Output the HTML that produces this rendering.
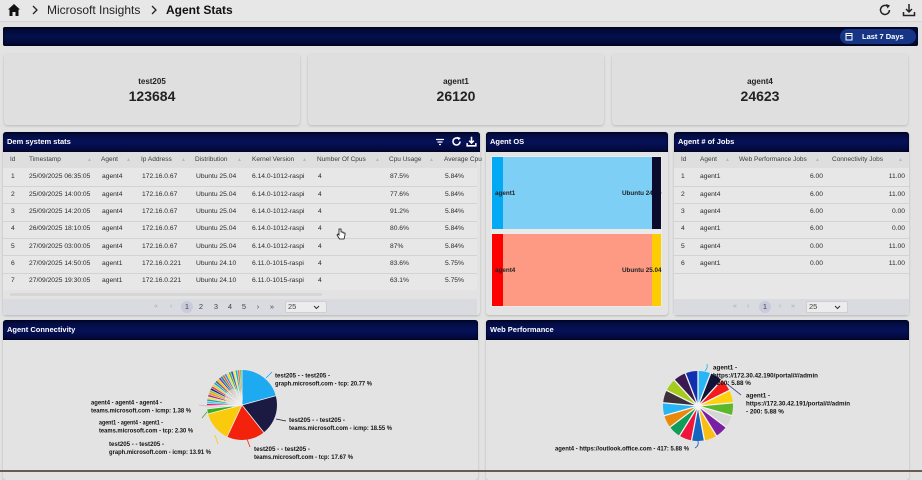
<!DOCTYPE html>
<html><head><meta charset="utf-8">
<style>
*{box-sizing:border-box}
body{margin:0;width:922px;height:472px;overflow:hidden;background:#e2e2e2;position:relative;font-family:"Liberation Sans",sans-serif;color:#222}
.a{position:absolute}
.t{position:absolute;font-size:6.7px;line-height:8px;white-space:nowrap;color:#2a2a2a}
.h{position:absolute;font-size:6.5px;line-height:8px;white-space:nowrap;color:#3a3a3a}
.ar{position:absolute;font-size:5px;line-height:8px;color:#b8b8b8}
.navy{background:linear-gradient(180deg,#020834 0%,#06125a 50%,#020834 100%);border-radius:3px 3px 0 0;box-shadow:inset 0 0 2px #000}
.ptitle{position:absolute;color:#fff;font-weight:bold;font-size:7.5px;line-height:8px;white-space:nowrap}
.card{position:absolute;background:#dfdfdf;border-radius:3px;box-shadow:0 1px 2px rgba(0,0,0,.18)}
.panel{position:absolute;background:#e3e3e3;border-radius:3px;box-shadow:0 1px 2px rgba(0,0,0,.2)}
.row{position:absolute;height:1px;background:#d3d3d3}
.pg{position:absolute;font-size:7.5px;line-height:10px;color:#444;text-align:center}
.pgd{position:absolute;font-size:7px;line-height:10px;color:#aaa}
</style></head>
<body>
<!-- top bar -->
<div class="a" style="left:0;top:0;width:922px;height:22px;background:#e7e7e7;border-bottom:1px solid #d6d6d6"></div>
<svg class="a" style="left:7px;top:3px" width="14" height="14" viewBox="0 0 14 14"><path d="M7 1 L13 6.5 L11.5 6.5 L11.5 13 L8.5 13 L8.5 9 L5.5 9 L5.5 13 L2.5 13 L2.5 6.5 L1 6.5 Z" fill="#111"/></svg>
<svg class="a" style="left:31px;top:5px" width="8" height="10"><path d="M2 1 L6 5 L2 9" stroke="#222" stroke-width="1.3" fill="none"/></svg>
<div class="a" style="left:47px;top:3px;font-size:12px;line-height:14px;color:#222">Microsoft Insights</div>
<svg class="a" style="left:150px;top:5px" width="8" height="10"><path d="M2 1 L6 5 L2 9" stroke="#222" stroke-width="1.3" fill="none"/></svg>
<div class="a" style="left:166px;top:3px;font-size:12px;line-height:14px;font-weight:bold;color:#111">Agent Stats</div>
<svg class="a" style="left:878px;top:3px" width="14" height="14" viewBox="0 0 14 14"><path d="M11.5 7 A4.5 4.5 0 1 1 9.5 3.2" stroke="#222" stroke-width="1.5" fill="none"/><path d="M8 1 L12 2.5 L9.5 5.5 Z" fill="#222"/></svg>
<svg class="a" style="left:902px;top:3px" width="14" height="14" viewBox="0 0 14 14"><path d="M7 1 V9 M4 6 L7 9 L10 6" stroke="#222" stroke-width="1.5" fill="none"/><path d="M1.5 9 V12.5 H12.5 V9" stroke="#222" stroke-width="1.5" fill="none"/></svg>

<!-- navy filter bar -->
<div class="a" style="left:3px;top:27px;width:915px;height:19px;background:linear-gradient(180deg,#01062a 0%,#03104e 50%,#01062a 100%);border-radius:2px;box-shadow:inset 0 0 2px #000"></div>
<div class="a" style="left:840px;top:29px;width:76px;height:15px;background:#163585;border-radius:8px"></div>
<svg class="a" style="left:845px;top:32px" width="8" height="9" viewBox="0 0 8 9"><rect x="1" y="1.5" width="6" height="6.5" stroke="#fff" stroke-width="1" fill="none"/><line x1="1" y1="3.5" x2="7" y2="3.5" stroke="#fff" stroke-width="1"/></svg>
<div class="a" style="left:862px;top:32px;font-size:7.5px;line-height:9px;font-weight:bold;color:#fff">Last 7 Days</div>

<!-- KPI cards -->
<div class="card" style="left:4px;top:54px;width:296px;height:71px"></div>
<div class="card" style="left:308px;top:54px;width:296px;height:71px"></div>
<div class="card" style="left:612px;top:54px;width:296px;height:71px"></div>
<div class="a" style="left:4px;top:77px;width:296px;text-align:center;font-size:8px;font-weight:bold;line-height:9px">test205</div>
<div class="a" style="left:4px;top:88px;width:296px;text-align:center;font-size:14px;font-weight:bold;line-height:16px">123684</div>
<div class="a" style="left:308px;top:77px;width:296px;text-align:center;font-size:8px;font-weight:bold;line-height:9px">agent1</div>
<div class="a" style="left:308px;top:88px;width:296px;text-align:center;font-size:14px;font-weight:bold;line-height:16px">26120</div>
<div class="a" style="left:612px;top:77px;width:296px;text-align:center;font-size:8px;font-weight:bold;line-height:9px">agent4</div>
<div class="a" style="left:612px;top:88px;width:296px;text-align:center;font-size:14px;font-weight:bold;line-height:16px">24623</div>

<!-- Dem system stats panel -->
<div class="panel" style="left:3px;top:132px;width:477px;height:183px"></div>
<div class="a navy" style="left:3px;top:132px;width:477px;height:20px"></div>
<div class="ptitle" style="left:7px;top:138px">Dem system stats</div>
<svg class="a" style="left:435px;top:137px" width="10" height="10"><path d="M1 2.5 H9 M2.5 5 H7.5 M4 7.5 H6" stroke="#fff" stroke-width="1.3"/></svg>
<svg class="a" style="left:451px;top:136px" width="11" height="11" viewBox="0 0 14 14"><path d="M11.5 7 A4.5 4.5 0 1 1 9.5 3.2" stroke="#fff" stroke-width="2" fill="none"/><path d="M8 1 L12.5 2.5 L9.5 5.5 Z" fill="#fff"/></svg>
<svg class="a" style="left:466px;top:136px" width="11" height="11" viewBox="0 0 14 14"><path d="M7 1 V9 M4 6 L7 9 L10 6" stroke="#fff" stroke-width="2" fill="none"/><path d="M1.5 9 V12.5 H12.5 V9" stroke="#fff" stroke-width="2" fill="none"/></svg>
<div class="a" style="left:3px;top:152px;width:474px;height:16px;background:#dedede"></div>
<div class="a" style="left:3px;top:168px;width:474px;height:122px;background:#e7e7e7"></div>
<div class="h" style="left:10px;top:156px">Id</div>
<div class="h" style="left:29px;top:156px">Timestamp</div><div class="ar" style="left:87px;top:156px">▲</div>
<div class="h" style="left:101px;top:156px">Agent</div><div class="ar" style="left:126px;top:156px">▲</div>
<div class="h" style="left:141px;top:156px">Ip Address</div><div class="ar" style="left:181px;top:156px">▲</div>
<div class="h" style="left:195px;top:156px">Distribution</div><div class="ar" style="left:237px;top:156px">▲</div>
<div class="h" style="left:252px;top:156px">Kernel Version</div><div class="ar" style="left:302px;top:156px">▲</div>
<div class="h" style="left:317px;top:156px">Number Of Cpus</div><div class="ar" style="left:375px;top:156px">▲</div>
<div class="h" style="left:389px;top:156px">Cpu Usage</div><div class="ar" style="left:429px;top:156px">▲</div>
<div class="h" style="left:444px;top:156px">Average Cpu</div>

<div class="row" style="left:3px;top:186px;width:474px"></div>
<div class="row" style="left:3px;top:203px;width:474px"></div>
<div class="row" style="left:3px;top:221px;width:474px"></div>
<div class="row" style="left:3px;top:238px;width:474px"></div>
<div class="row" style="left:3px;top:255px;width:474px"></div>
<div class="row" style="left:3px;top:273px;width:474px"></div>

<div class="t" style="left:11px;top:173px">1</div><div class="t" style="left:29px;top:173px">25/09/2025 06:35:05</div><div class="t" style="left:102px;top:173px">agent4</div><div class="t" style="left:142px;top:173px">172.16.0.67</div><div class="t" style="left:196px;top:173px">Ubuntu 25.04</div><div class="t" style="left:252px;top:173px">6.14.0-1012-raspi</div><div class="t" style="left:318px;top:173px">4</div><div class="t" style="left:390px;top:173px">87.5%</div><div class="t" style="left:445px;top:173px">5.84%</div>
<div class="t" style="left:11px;top:191px">2</div><div class="t" style="left:29px;top:191px">25/09/2025 14:00:05</div><div class="t" style="left:102px;top:191px">agent4</div><div class="t" style="left:142px;top:191px">172.16.0.67</div><div class="t" style="left:196px;top:191px">Ubuntu 25.04</div><div class="t" style="left:252px;top:191px">6.14.0-1012-raspi</div><div class="t" style="left:318px;top:191px">4</div><div class="t" style="left:390px;top:191px">77.6%</div><div class="t" style="left:445px;top:191px">5.84%</div>
<div class="t" style="left:11px;top:208px">3</div><div class="t" style="left:29px;top:208px">25/09/2025 14:20:05</div><div class="t" style="left:102px;top:208px">agent4</div><div class="t" style="left:142px;top:208px">172.16.0.67</div><div class="t" style="left:196px;top:208px">Ubuntu 25.04</div><div class="t" style="left:252px;top:208px">6.14.0-1012-raspi</div><div class="t" style="left:318px;top:208px">4</div><div class="t" style="left:390px;top:208px">91.2%</div><div class="t" style="left:445px;top:208px">5.84%</div>
<div class="t" style="left:11px;top:225px">4</div><div class="t" style="left:29px;top:225px">26/09/2025 18:10:05</div><div class="t" style="left:102px;top:225px">agent4</div><div class="t" style="left:142px;top:225px">172.16.0.67</div><div class="t" style="left:196px;top:225px">Ubuntu 25.04</div><div class="t" style="left:252px;top:225px">6.14.0-1012-raspi</div><div class="t" style="left:318px;top:225px">4</div><div class="t" style="left:390px;top:225px">80.6%</div><div class="t" style="left:445px;top:225px">5.84%</div>
<div class="t" style="left:11px;top:243px">5</div><div class="t" style="left:29px;top:243px">27/09/2025 03:00:05</div><div class="t" style="left:102px;top:243px">agent4</div><div class="t" style="left:142px;top:243px">172.16.0.67</div><div class="t" style="left:196px;top:243px">Ubuntu 25.04</div><div class="t" style="left:252px;top:243px">6.14.0-1012-raspi</div><div class="t" style="left:318px;top:243px">4</div><div class="t" style="left:390px;top:243px">87%</div><div class="t" style="left:445px;top:243px">5.84%</div>
<div class="t" style="left:11px;top:260px">6</div><div class="t" style="left:29px;top:260px">27/09/2025 14:50:05</div><div class="t" style="left:102px;top:260px">agent1</div><div class="t" style="left:142px;top:260px">172.16.0.221</div><div class="t" style="left:196px;top:260px">Ubuntu 24.10</div><div class="t" style="left:252px;top:260px">6.11.0-1015-raspi</div><div class="t" style="left:318px;top:260px">4</div><div class="t" style="left:390px;top:260px">83.6%</div><div class="t" style="left:445px;top:260px">5.75%</div>
<div class="t" style="left:11px;top:277px">7</div><div class="t" style="left:29px;top:277px">27/09/2025 19:30:05</div><div class="t" style="left:102px;top:277px">agent1</div><div class="t" style="left:142px;top:277px">172.16.0.221</div><div class="t" style="left:196px;top:277px">Ubuntu 24.10</div><div class="t" style="left:252px;top:277px">6.11.0-1015-raspi</div><div class="t" style="left:318px;top:277px">4</div><div class="t" style="left:390px;top:277px">63.1%</div><div class="t" style="left:445px;top:277px">5.75%</div>
<div class="a" style="left:10px;top:293px;width:312px;height:3px;background:#d6d6d6;border-radius:2px"></div>
<!-- cursor -->
<svg class="a" style="left:336px;top:228px" width="10" height="12" viewBox="0 0 10 12"><path d="M3 1 V7 L2 6 L1 7 L3.5 11 H8 L9 7 V5 H7 V4 H5 V1 Z" fill="#fff" stroke="#111" stroke-width=".8"/></svg>
<div class="a" style="left:3px;top:299px;width:474px;height:16px;background:#dadbe0"></div>
<div class="pgd" style="left:154px;top:302px">«</div>
<div class="pgd" style="left:170px;top:302px">‹</div>
<div class="a" style="left:181px;top:301px;width:12px;height:12px;border-radius:6px;background:#c9cbdc"></div>
<div class="pg" style="left:181px;top:302px;width:12px">1</div>
<div class="pg" style="left:197px;top:302px;width:8px">2</div>
<div class="pg" style="left:212px;top:302px;width:8px">3</div>
<div class="pg" style="left:226px;top:302px;width:8px">4</div>
<div class="pg" style="left:240px;top:302px;width:8px">5</div>
<div class="pg" style="left:254px;top:302px;width:8px">›</div>
<div class="pg" style="left:268px;top:302px;width:8px">»</div>
<div class="a" style="left:285px;top:301px;width:42px;height:12px;background:#ececec;border:1px solid #cfcfcf;border-radius:2px"></div>
<div class="pg" style="left:288px;top:302px">25</div>
<svg class="a" style="left:313px;top:305px" width="7" height="5"><path d="M1 1 L3.5 3.5 L6 1" stroke="#333" stroke-width="1" fill="none"/></svg>

<!-- Agent OS panel -->
<div class="panel" style="left:486px;top:132px;width:182px;height:183px"></div>
<div class="a navy" style="left:486px;top:132px;width:182px;height:20px"></div>
<div class="ptitle" style="left:490px;top:138px">Agent OS</div>
<div class="a" style="left:491px;top:156px;width:171px;height:151px;background:#eaeaea"></div>
<div class="a" style="left:503px;top:157px;width:149px;height:72px;background:#7dcff5"></div>
<div class="a" style="left:492px;top:157px;width:11px;height:72px;background:#04a9f4"></div>
<div class="a" style="left:503px;top:234px;width:149px;height:72px;background:#fe9a84"></div>
<div class="a" style="left:492px;top:234px;width:11px;height:72px;background:#fe0000"></div>
<div class="a" style="left:495px;top:190px;font-size:6.3px;font-weight:bold;line-height:8px">agent1</div>
<div class="a" style="left:495px;top:267px;font-size:6.3px;font-weight:bold;line-height:8px">agent4</div>
<div class="a" style="left:622px;top:190px;font-size:6.3px;font-weight:bold;line-height:8px;white-space:nowrap">Ubuntu 24.10</div>
<div class="a" style="left:652px;top:157px;width:9px;height:72px;background:#0b0b2e"></div>
<div class="a" style="left:652px;top:234px;width:9px;height:72px;background:#fecc02"></div>
<div class="a" style="left:622px;top:267px;font-size:6.3px;font-weight:bold;line-height:8px;white-space:nowrap">Ubuntu 25.04</div>

<!-- Agent # of Jobs -->
<div class="panel" style="left:674px;top:132px;width:235px;height:183px"></div>
<div class="a navy" style="left:674px;top:132px;width:235px;height:20px"></div>
<div class="ptitle" style="left:678px;top:138px">Agent # of Jobs</div>
<div class="a" style="left:674px;top:152px;width:235px;height:16px;background:#dedede"></div>
<div class="a" style="left:674px;top:168px;width:235px;height:131px;background:#e7e7e7"></div>
<div class="h" style="left:681px;top:156px">Id</div>
<div class="h" style="left:700px;top:156px">Agent</div><div class="ar" style="left:725px;top:156px">▲</div>
<div class="h" style="left:739px;top:156px">Web Performance Jobs</div><div class="ar" style="left:815px;top:156px">▲</div>
<div class="h" style="left:832px;top:156px">Connectivity Jobs</div><div class="ar" style="left:898px;top:156px">▲</div>
<div class="row" style="left:674px;top:186px;width:235px"></div>
<div class="row" style="left:674px;top:203px;width:235px"></div>
<div class="row" style="left:674px;top:221px;width:235px"></div>
<div class="row" style="left:674px;top:238px;width:235px"></div>
<div class="row" style="left:674px;top:255px;width:235px"></div>
<div class="row" style="left:674px;top:273px;width:235px"></div>
<div class="t" style="left:681px;top:173px">1</div><div class="t" style="left:700px;top:173px">agent1</div><div class="t" style="left:783px;top:173px;width:40px;text-align:right">6.00</div><div class="t" style="left:865px;top:173px;width:40px;text-align:right">11.00</div>
<div class="t" style="left:681px;top:191px">2</div><div class="t" style="left:700px;top:191px">agent4</div><div class="t" style="left:783px;top:191px;width:40px;text-align:right">6.00</div><div class="t" style="left:865px;top:191px;width:40px;text-align:right">11.00</div>
<div class="t" style="left:681px;top:208px">3</div><div class="t" style="left:700px;top:208px">agent4</div><div class="t" style="left:783px;top:208px;width:40px;text-align:right">6.00</div><div class="t" style="left:865px;top:208px;width:40px;text-align:right">0.00</div>
<div class="t" style="left:681px;top:225px">4</div><div class="t" style="left:700px;top:225px">agent1</div><div class="t" style="left:783px;top:225px;width:40px;text-align:right">6.00</div><div class="t" style="left:865px;top:225px;width:40px;text-align:right">0.00</div>
<div class="t" style="left:681px;top:243px">5</div><div class="t" style="left:700px;top:243px">agent4</div><div class="t" style="left:783px;top:243px;width:40px;text-align:right">0.00</div><div class="t" style="left:865px;top:243px;width:40px;text-align:right">11.00</div>
<div class="t" style="left:681px;top:260px">6</div><div class="t" style="left:700px;top:260px">agent1</div><div class="t" style="left:783px;top:260px;width:40px;text-align:right">0.00</div><div class="t" style="left:865px;top:260px;width:40px;text-align:right">11.00</div>
<div class="a" style="left:674px;top:299px;width:235px;height:16px;background:#dadbe0"></div>
<div class="pgd" style="left:733px;top:302px">«</div>
<div class="pgd" style="left:747px;top:302px">‹</div>
<div class="a" style="left:759px;top:301px;width:12px;height:12px;border-radius:6px;background:#c9cbdc"></div>
<div class="pg" style="left:759px;top:302px;width:12px">1</div>
<div class="pgd" style="left:779px;top:302px">›</div>
<div class="pgd" style="left:791px;top:302px">»</div>
<div class="a" style="left:806px;top:301px;width:42px;height:12px;background:#ececec;border:1px solid #cfcfcf;border-radius:2px"></div>
<div class="pg" style="left:809px;top:302px">25</div>
<svg class="a" style="left:834px;top:305px" width="7" height="5"><path d="M1 1 L3.5 3.5 L6 1" stroke="#333" stroke-width="1" fill="none"/></svg>

<!-- Bottom panels -->
<div class="panel" style="left:3px;top:320px;width:475px;height:160px"></div>
<div class="a navy" style="left:3px;top:320px;width:475px;height:20px"></div>
<div class="ptitle" style="left:7px;top:326px">Agent Connectivity</div>
<div class="panel" style="left:486px;top:320px;width:423px;height:160px"></div>
<div class="a navy" style="left:486px;top:320px;width:423px;height:20px"></div>
<div class="ptitle" style="left:490px;top:326px">Web Performance</div>
<div class="a" style="left:0;top:470px;width:922px;height:2px;background:#6a5a50"></div>

<svg class="a" style="left:0;top:0" width="922" height="472" viewBox="0 0 922 472">
<g transform="rotate(-90 242 405)" fill="none" stroke-width="35">
<circle cx="242" cy="405" r="17.5" stroke="#1eaaf1" stroke-dasharray="22.84 200" stroke-dashoffset="0"/>
<circle cx="242" cy="405" r="17.5" stroke="#1a1a42" stroke-dasharray="20.40 200" stroke-dashoffset="-22.838"/>
<circle cx="242" cy="405" r="17.5" stroke="#f3220c" stroke-dasharray="19.43 200" stroke-dashoffset="-43.235"/>
<circle cx="242" cy="405" r="17.5" stroke="#fcca0c" stroke-dasharray="15.30 200" stroke-dashoffset="-62.664"/>
<circle cx="242" cy="405" r="17.5" stroke="#3fae1c" stroke-dasharray="2.53 200" stroke-dashoffset="-77.959"/>
<circle cx="242" cy="405" r="17.5" stroke="#d9d9d9" stroke-dasharray="1.52 200" stroke-dashoffset="-80.488"/>
<circle cx="242" cy="405" r="17.5" stroke="#e91e63" stroke-dasharray="1.2 200" stroke-dashoffset="-82.005"/>
<circle cx="242" cy="405" r="17.5" stroke="#4fc3f7" stroke-dasharray="1.2 200" stroke-dashoffset="-83.170"/>
<circle cx="242" cy="405" r="17.5" stroke="#26a69a" stroke-dasharray="1.2 200" stroke-dashoffset="-84.334"/>
<circle cx="242" cy="405" r="17.5" stroke="#f9e23b" stroke-dasharray="1.2 200" stroke-dashoffset="-85.499"/>
<circle cx="242" cy="405" r="17.5" stroke="#9c27b0" stroke-dasharray="1.2 200" stroke-dashoffset="-86.663"/>
<circle cx="242" cy="405" r="17.5" stroke="#ff9800" stroke-dasharray="1.2 200" stroke-dashoffset="-87.828"/>
<circle cx="242" cy="405" r="17.5" stroke="#8bc34a" stroke-dasharray="1.2 200" stroke-dashoffset="-88.993"/>
<circle cx="242" cy="405" r="17.5" stroke="#1a237e" stroke-dasharray="1.2 200" stroke-dashoffset="-90.157"/>
<circle cx="242" cy="405" r="17.5" stroke="#f44336" stroke-dasharray="1.2 200" stroke-dashoffset="-91.322"/>
<circle cx="242" cy="405" r="17.5" stroke="#cddc39" stroke-dasharray="1.2 200" stroke-dashoffset="-92.486"/>
<circle cx="242" cy="405" r="17.5" stroke="#03a9f4" stroke-dasharray="1.2 200" stroke-dashoffset="-93.651"/>
<circle cx="242" cy="405" r="17.5" stroke="#795548" stroke-dasharray="1.2 200" stroke-dashoffset="-94.816"/>
<circle cx="242" cy="405" r="17.5" stroke="#ffc107" stroke-dasharray="1.2 200" stroke-dashoffset="-95.980"/>
<circle cx="242" cy="405" r="17.5" stroke="#673ab7" stroke-dasharray="1.2 200" stroke-dashoffset="-97.145"/>
<circle cx="242" cy="405" r="17.5" stroke="#009688" stroke-dasharray="1.2 200" stroke-dashoffset="-98.309"/>
<circle cx="242" cy="405" r="17.5" stroke="#ff5722" stroke-dasharray="1.2 200" stroke-dashoffset="-99.474"/>
<circle cx="242" cy="405" r="17.5" stroke="#2196f3" stroke-dasharray="1.2 200" stroke-dashoffset="-100.639"/>
<circle cx="242" cy="405" r="17.5" stroke="#fdd835" stroke-dasharray="1.2 200" stroke-dashoffset="-101.803"/>
<circle cx="242" cy="405" r="17.5" stroke="#4caf50" stroke-dasharray="1.2 200" stroke-dashoffset="-102.968"/>
<circle cx="242" cy="405" r="17.5" stroke="#3f51b5" stroke-dasharray="1.2 200" stroke-dashoffset="-104.132"/>
<circle cx="242" cy="405" r="17.5" stroke="#ffeb3b" stroke-dasharray="1.2 200" stroke-dashoffset="-105.297"/>
<circle cx="242" cy="405" r="17.5" stroke="#00bcd4" stroke-dasharray="1.2 200" stroke-dashoffset="-106.462"/>
<circle cx="242" cy="405" r="17.5" stroke="#ff7043" stroke-dasharray="1.2 200" stroke-dashoffset="-107.626"/>
<circle cx="242" cy="405" r="17.5" stroke="#66bb6a" stroke-dasharray="1.17 200" stroke-dashoffset="-108.791"/>
</g>
<g stroke="#f4f4f4" stroke-width="0.8">
<line x1="242" y1="405" x2="242" y2="369.5"/>
<line x1="242" y1="405" x2="242" y2="369.5" transform="rotate(74.77 242 405)"/>
<line x1="242" y1="405" x2="242" y2="369.5" transform="rotate(141.55 242 405)"/>
<line x1="242" y1="405" x2="242" y2="369.5" transform="rotate(205.16 242 405)"/>
<line x1="242" y1="405" x2="242" y2="369.5" transform="rotate(255.24 242 405)"/>
<line x1="242" y1="405" x2="242" y2="369.5" transform="rotate(263.52 242 405)"/>
<line x1="242" y1="405" x2="242" y2="369.5" transform="rotate(268.49 242 405)"/>
</g>
<g stroke="#f0f0f0" stroke-width="0.5">
<line x1="242" y1="405" x2="242" y2="369.5" transform="rotate(272.3 242 405)"/>
<line x1="242" y1="405" x2="242" y2="369.5" transform="rotate(276.1 242 405)"/>
<line x1="242" y1="405" x2="242" y2="369.5" transform="rotate(279.9 242 405)"/>
<line x1="242" y1="405" x2="242" y2="369.5" transform="rotate(283.7 242 405)"/>
<line x1="242" y1="405" x2="242" y2="369.5" transform="rotate(287.5 242 405)"/>
<line x1="242" y1="405" x2="242" y2="369.5" transform="rotate(291.4 242 405)"/>
<line x1="242" y1="405" x2="242" y2="369.5" transform="rotate(295.2 242 405)"/>
<line x1="242" y1="405" x2="242" y2="369.5" transform="rotate(299.0 242 405)"/>
<line x1="242" y1="405" x2="242" y2="369.5" transform="rotate(302.8 242 405)"/>
<line x1="242" y1="405" x2="242" y2="369.5" transform="rotate(306.6 242 405)"/>
<line x1="242" y1="405" x2="242" y2="369.5" transform="rotate(310.4 242 405)"/>
<line x1="242" y1="405" x2="242" y2="369.5" transform="rotate(314.2 242 405)"/>
<line x1="242" y1="405" x2="242" y2="369.5" transform="rotate(318.1 242 405)"/>
<line x1="242" y1="405" x2="242" y2="369.5" transform="rotate(321.9 242 405)"/>
<line x1="242" y1="405" x2="242" y2="369.5" transform="rotate(325.7 242 405)"/>
<line x1="242" y1="405" x2="242" y2="369.5" transform="rotate(329.5 242 405)"/>
<line x1="242" y1="405" x2="242" y2="369.5" transform="rotate(333.3 242 405)"/>
<line x1="242" y1="405" x2="242" y2="369.5" transform="rotate(337.1 242 405)"/>
<line x1="242" y1="405" x2="242" y2="369.5" transform="rotate(340.9 242 405)"/>
<line x1="242" y1="405" x2="242" y2="369.5" transform="rotate(344.8 242 405)"/>
<line x1="242" y1="405" x2="242" y2="369.5" transform="rotate(348.6 242 405)"/>
<line x1="242" y1="405" x2="242" y2="369.5" transform="rotate(352.4 242 405)"/>
<line x1="242" y1="405" x2="242" y2="369.5" transform="rotate(356.2 242 405)"/>
</g>
<circle cx="234" cy="398" r="9" fill="#eeeeee" opacity="0.55"/>
<!-- connectivity leaders -->
<g fill="none" stroke-width="0.8">
<path d="M266 378 L272 372" stroke="#1eaaf1"/>
<path d="M276 419 L286 421" stroke="#1a1a42"/>
<path d="M247 439 L250 447" stroke="#f3220c"/>
<path d="M215 435 L218 444" stroke="#fcca0c"/>
<path d="M207 412 L202 418" stroke="#3fae1c"/>
<path d="M207 406 L199 405" stroke="#bbbbbb"/>
</g>
<g font-family="Liberation Sans, sans-serif" font-size="6.3" font-weight="bold" fill="#111">
<text x="275" y="377.5" textLength="55" lengthAdjust="spacingAndGlyphs">test205 - - test205 -</text>
<text x="275" y="385.5" textLength="97" lengthAdjust="spacingAndGlyphs">graph.microsoft.com - tcp: 20.77 %</text>
<text x="289" y="422" textLength="56" lengthAdjust="spacingAndGlyphs">test205 - - test205 -</text>
<text x="289" y="430" textLength="103" lengthAdjust="spacingAndGlyphs">teams.microsoft.com - icmp: 18.55 %</text>
<text x="254" y="451" textLength="56" lengthAdjust="spacingAndGlyphs">test205 - - test205 -</text>
<text x="254" y="459" textLength="99" lengthAdjust="spacingAndGlyphs">teams.microsoft.com - tcp: 17.67 %</text>
<text x="109" y="446" textLength="55" lengthAdjust="spacingAndGlyphs">test205 - - test205 -</text>
<text x="109" y="454" textLength="102" lengthAdjust="spacingAndGlyphs">graph.microsoft.com - icmp: 13.91 %</text>
<text x="99" y="424.5" textLength="64" lengthAdjust="spacingAndGlyphs">agent1 - agent4 - agent1 -</text>
<text x="99" y="432.5" textLength="94" lengthAdjust="spacingAndGlyphs">teams.microsoft.com - tcp: 2.30 %</text>
<text x="91" y="404.5" textLength="71" lengthAdjust="spacingAndGlyphs">agent4 - agent4 - agent4 -</text>
<text x="91" y="412.5" textLength="100" lengthAdjust="spacingAndGlyphs">teams.microsoft.com - icmp: 1.38 %</text>
</g>

<!-- web perf pie -->
<g transform="rotate(-90 698 406)" fill="none" stroke-width="35">
<circle cx="698" cy="406" r="17.5" stroke="#29b6f6" stroke-dasharray="6.6 200" stroke-dashoffset="0"/>
<circle cx="698" cy="406" r="17.5" stroke="#13133a" stroke-dasharray="6.6 200" stroke-dashoffset="-6.468"/>
<circle cx="698" cy="406" r="17.5" stroke="#f51b1b" stroke-dasharray="6.6 200" stroke-dashoffset="-12.936"/>
<circle cx="698" cy="406" r="17.5" stroke="#fdd10c" stroke-dasharray="6.6 200" stroke-dashoffset="-19.404"/>
<circle cx="698" cy="406" r="17.5" stroke="#5cb82a" stroke-dasharray="6.6 200" stroke-dashoffset="-25.872"/>
<circle cx="698" cy="406" r="17.5" stroke="#d6d6d6" stroke-dasharray="6.6 200" stroke-dashoffset="-32.340"/>
<circle cx="698" cy="406" r="17.5" stroke="#7b1fa2" stroke-dasharray="6.6 200" stroke-dashoffset="-38.808"/>
<circle cx="698" cy="406" r="17.5" stroke="#fbbd12" stroke-dasharray="6.6 200" stroke-dashoffset="-45.276"/>
<circle cx="698" cy="406" r="17.5" stroke="#1565c0" stroke-dasharray="6.6 200" stroke-dashoffset="-51.744"/>
<circle cx="698" cy="406" r="17.5" stroke="#f0143c" stroke-dasharray="6.6 200" stroke-dashoffset="-58.212"/>
<circle cx="698" cy="406" r="17.5" stroke="#0f9d58" stroke-dasharray="6.6 200" stroke-dashoffset="-64.680"/>
<circle cx="698" cy="406" r="17.5" stroke="#e8890c" stroke-dasharray="6.6 200" stroke-dashoffset="-71.148"/>
<circle cx="698" cy="406" r="17.5" stroke="#26b5f5" stroke-dasharray="6.6 200" stroke-dashoffset="-77.616"/>
<circle cx="698" cy="406" r="17.5" stroke="#3e2f3a" stroke-dasharray="6.6 200" stroke-dashoffset="-84.084"/>
<circle cx="698" cy="406" r="17.5" stroke="#a5cc1a" stroke-dasharray="6.6 200" stroke-dashoffset="-90.552"/>
<circle cx="698" cy="406" r="17.5" stroke="#3a1850" stroke-dasharray="6.6 200" stroke-dashoffset="-97.020"/>
<circle cx="698" cy="406" r="17.5" stroke="#1030b0" stroke-dasharray="6.47 200" stroke-dashoffset="-103.488"/>
</g>
<g stroke="#f4f4f4" stroke-width="1.3">
<line x1="698" y1="406" x2="698" y2="370.5"/>
<line x1="698" y1="406" x2="698" y2="370.5" transform="rotate(21.18 698 406)"/>
<line x1="698" y1="406" x2="698" y2="370.5" transform="rotate(42.35 698 406)"/>
<line x1="698" y1="406" x2="698" y2="370.5" transform="rotate(63.53 698 406)"/>
<line x1="698" y1="406" x2="698" y2="370.5" transform="rotate(84.71 698 406)"/>
<line x1="698" y1="406" x2="698" y2="370.5" transform="rotate(105.88 698 406)"/>
<line x1="698" y1="406" x2="698" y2="370.5" transform="rotate(127.06 698 406)"/>
<line x1="698" y1="406" x2="698" y2="370.5" transform="rotate(148.24 698 406)"/>
<line x1="698" y1="406" x2="698" y2="370.5" transform="rotate(169.41 698 406)"/>
<line x1="698" y1="406" x2="698" y2="370.5" transform="rotate(190.59 698 406)"/>
<line x1="698" y1="406" x2="698" y2="370.5" transform="rotate(211.76 698 406)"/>
<line x1="698" y1="406" x2="698" y2="370.5" transform="rotate(232.94 698 406)"/>
<line x1="698" y1="406" x2="698" y2="370.5" transform="rotate(254.12 698 406)"/>
<line x1="698" y1="406" x2="698" y2="370.5" transform="rotate(275.29 698 406)"/>
<line x1="698" y1="406" x2="698" y2="370.5" transform="rotate(296.47 698 406)"/>
<line x1="698" y1="406" x2="698" y2="370.5" transform="rotate(317.65 698 406)"/>
<line x1="698" y1="406" x2="698" y2="370.5" transform="rotate(338.82 698 406)"/>
</g>
<circle cx="698" cy="406" r="3" fill="#f4f4f4"/>
<g fill="none" stroke-width="0.9">
<path d="M705 371 Q708 368 707 364" stroke="#29b6f6"/>
<path d="M726 383 L741 395" stroke="#4a5a80"/>
<path d="M698 441 Q699 446 695 448" stroke="#1565c0"/>
</g>
<g font-family="Liberation Sans, sans-serif" font-size="6.3" font-weight="bold" fill="#111">
<text x="713" y="369.5">agent1 -</text>
<text x="713" y="377.5" textLength="105" lengthAdjust="spacingAndGlyphs">https://172.30.42.190/portal/#/admin</text>
<text x="713" y="385">- 200: 5.88 %</text>
<text x="746" y="397.5">agent1 -</text>
<text x="746" y="405.5" textLength="104" lengthAdjust="spacingAndGlyphs">https://172.30.42.191/portal/#/admin</text>
<text x="746" y="413.5">- 200: 5.88 %</text>
<text x="555" y="450.5" textLength="134" lengthAdjust="spacingAndGlyphs">agent4 - https://outlook.office.com - 417: 5.88 %</text>
</g>
</svg>
</body></html>
